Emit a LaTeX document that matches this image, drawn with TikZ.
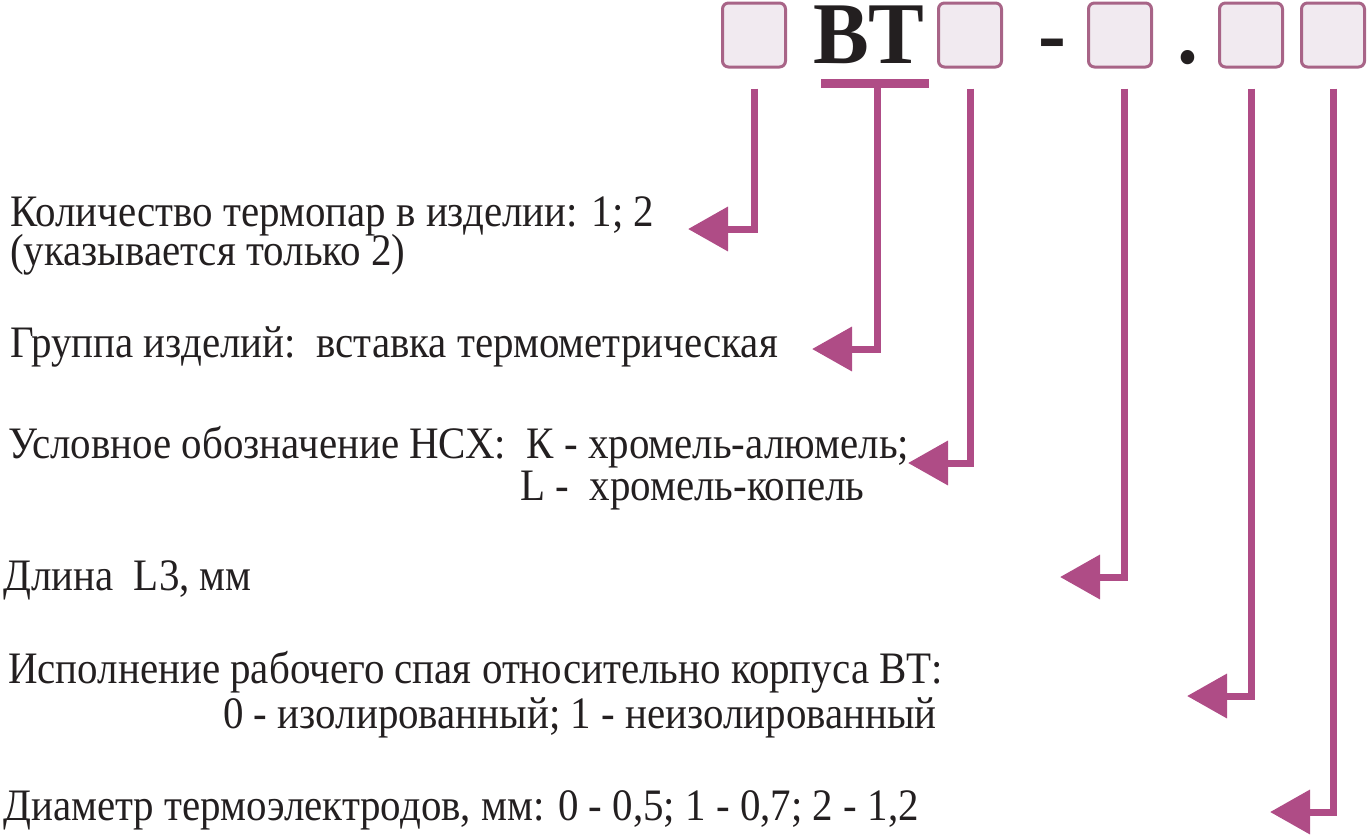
\documentclass[tikz,border=0pt]{standalone}
\usepackage{fontspec}
\setmainfont{Liberation Serif}[FakeStretch=0.91]
\newfontfamily\codefont{Liberation Serif}[FakeStretch=0.95]
\usetikzlibrary{arrows.meta}
\definecolor{leadc}{RGB}{175,76,134}
\definecolor{boxrim}{RGB}{168,100,135}
\definecolor{boxfill}{RGB}{241,234,240}
\definecolor{inkc}{RGB}{35,31,32}
\tikzset{
	cell/.style={draw=boxrim, fill=boxfill, line width=3pt, rounded corners=6pt, minimum width=63pt, minimum height=64pt, inner sep=0pt},
	code/.style={anchor=base, inner sep=0pt, text height=58pt, text depth=0pt, text=inkc, font=\codefont\bfseries\fontsize{88}{90}\selectfont},
	lead/.style={draw=leadc, line width=7pt, -{Triangle[length=40pt,width=43pt]}},
	bar/.style={draw=leadc, line width=9pt},
	lbl/.style={anchor=base west, inner sep=0pt, text height=30pt, text depth=8pt, text=inkc, font=\fontsize{45}{50}\selectfont},
}

\begin{document}
\begin{tikzpicture}[x=1pt,y=-1pt]
	\useasboundingbox (0,0) rectangle (1372,836);

	\node[cell] (b1) at (754,35) {};
	\node[code] (bt) at (869,63) {ВТ};
	\node[cell] (b2) at (970,35) {};
	\node[code] (dash) at (1052,63) {-};
	\node[cell] (b3) at (1120,35) {};
	\node[code] (dot) at (1188,63) {.};
	\node[cell] (b4) at (1251,35) {};
	\node[cell] (b5) at (1333,35) {};

	\draw[bar] (821,83.5) -- (929,83.5);
	\coordinate (s2) at (877,88);

	\node[lbl] (t1) at (10,226) {Количество термопар в изделии: 1; 2};
	\node[lbl] (t1b) at (10,265) {(указывается только 2)};
	\node[lbl] (t2) at (10,357) {Группа изделий:\ \ вставка термометрическая};
	\node[lbl] (t3) at (8,458) {Условное обозначение НСХ:\ \ К - хромель-алюмель;};
	\node[lbl] (t3b) at (520,500) {L -\ \ хромель-копель};
	\node[lbl] (t4) at (3,590) {Длина\ \ L3, мм};
	\node[lbl] (t5) at (8,683) {Исполнение рабочего спая относительно корпуса ВТ:};
	\node[lbl, anchor=base east] (t5b) at (937,728) {0 - изолированный; 1 - неизолированный};
	\node[lbl] (t6) at (3,820) {Диаметр термоэлектродов, мм: 0 - 0,5; 1 - 0,7; 2 - 1,2};

	\coordinate (e1) at (688,229);
	\coordinate (e2) at (812,349);
	\coordinate (e3) at (908,463);
	\coordinate (e4) at (1060,577);
	\coordinate (e5) at (1187,696);
	\coordinate (e6) at (1270,812);

	\draw[lead] ([yshift=-20pt]b1.south) |- (e1);
	\draw[lead] (s2) |- (e2);
	\draw[lead] ([yshift=-20pt]b2.south) |- (e3);
	\draw[lead] ([xshift=4pt,yshift=-20pt]b3.south) |- (e4);
	\draw[lead] ([yshift=-20pt]b4.south) |- (e5);
	\draw[lead] ([yshift=-20pt]b5.south) |- (e6);
\end{tikzpicture}
\end{document}
